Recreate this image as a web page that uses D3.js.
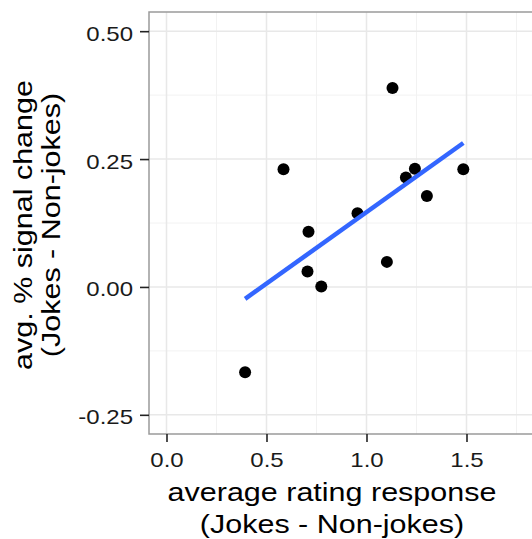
<!DOCTYPE html>
<meta charset="utf-8">
<html>
    <head>
        <script src="https://d3js.org/d3.v7.min.js"></script>
        <style>
            body { margin: 0; background: #fff; }
            text { font-family: "Liberation Sans", Arial, sans-serif; }
        </style>
    </head>

    <body>
        <div id="viz"></div>

    <script>
        // average rating response (Jokes - Non-jokes), one value per subject
        const ratingDiff = [1.13, 0.585, 1.242, 1.197, 1.484, 1.302, 0.955, 0.71, 1.102, 0.705, 0.774, 0.393];
        // avg. % signal change (Jokes - Non-jokes)
        const signalDiff = [0.389, 0.230, 0.231, 0.214, 0.230, 0.178, 0.144, 0.108, 0.049, 0.030, 0.001, -0.167];

        const xTicks = [0, 0.5, 1.0, 1.5],
            xMinor = [0.25, 0.75, 1.25, 1.75],
            yTicks = [-0.25, 0, 0.25, 0.5],
            yMinor = [-0.125, 0.125, 0.375];

        const xTitle = ["average rating response", "(Jokes - Non-jokes)"],
            yTitle = ["avg. % signal change", "(Jokes - Non-jokes)"];

        const w = 532, h = 539;
        const panel = {left: 149, right: 534, top: 12, bottom: 434};
        const stretch = 1.22;

        const svg = d3.select("#viz")
            .append("svg")
            .attr("width", w)
            .attr("height", h);

        const x = d3.scaleLinear()
            .domain([-0.0875, 1.8375])
            .range([panel.left, panel.right]);
        const y = d3.scaleLinear()
            .domain([-0.2875, 0.5375])
            .range([panel.bottom, panel.top]);

        // grid
        const grid = svg.append("g");
        grid.selectAll(".vminor").data(xMinor).join("line")
            .attr("x1", d => x(d)).attr("x2", d => x(d))
            .attr("y1", panel.top).attr("y2", panel.bottom)
            .attr("stroke", "#f2f2f2").attr("stroke-width", 1);
        grid.selectAll(".hminor").data(yMinor).join("line")
            .attr("y1", d => y(d)).attr("y2", d => y(d))
            .attr("x1", panel.left).attr("x2", panel.right)
            .attr("stroke", "#f2f2f2").attr("stroke-width", 1);
        grid.selectAll(".vmajor").data(xTicks).join("line")
            .attr("x1", d => x(d)).attr("x2", d => x(d))
            .attr("y1", panel.top).attr("y2", panel.bottom)
            .attr("stroke", "#e8e8e8").attr("stroke-width", 1.5);
        grid.selectAll(".hmajor").data(yTicks).join("line")
            .attr("y1", d => y(d)).attr("y2", d => y(d))
            .attr("x1", panel.left).attr("x2", panel.right)
            .attr("stroke", "#e8e8e8").attr("stroke-width", 1.5);

        // points
        const pts = d3.zip(ratingDiff, signalDiff);
        svg.append("g").selectAll("circle")
            .data(pts)
            .join("circle")
            .attr("cx", d => x(d[0]))
            .attr("cy", d => y(d[1]))
            .attr("r", 6)
            .attr("fill", "#000");

        // least squares fit (geom_smooth method = lm, no se)
        const mx = d3.mean(ratingDiff), my = d3.mean(signalDiff);
        const slope = d3.sum(pts, d => (d[0] - mx) * (d[1] - my)) / d3.sum(ratingDiff, v => (v - mx) * (v - mx));
        const intercept = my - slope * mx;
        const fitX = d3.extent(ratingDiff);
        svg.append("path")
            .datum(fitX.map(v => [v, intercept + slope * v]))
            .attr("fill", "none")
            .attr("stroke", "#3366FF")
            .attr("stroke-width", 4.5)
            .attr("d", d3.line().x(d => x(d[0])).y(d => y(d[1])));

        // panel border
        svg.append("rect")
            .attr("x", panel.left).attr("y", panel.top)
            .attr("width", panel.right - panel.left)
            .attr("height", panel.bottom - panel.top)
            .attr("fill", "none")
            .attr("stroke", "#9a9a9a")
            .attr("stroke-width", 1.5);

        // axes
        const yAxis = svg.append("g")
            .attr("transform", `translate(${panel.left},0)`)
            .call(d3.axisLeft(y).tickValues(yTicks).tickFormat(d => d.toFixed(2))
                .tickSizeInner(9).tickSizeOuter(0).tickPadding(4.3));
        const xAxis = svg.append("g")
            .attr("transform", `translate(0,${panel.bottom})`)
            .call(d3.axisBottom(x).tickValues(xTicks).tickFormat(d => d.toFixed(1))
                .tickSizeInner(8).tickSizeOuter(0));

        [xAxis, yAxis].forEach(a => {
            a.select(".domain").remove();
            a.selectAll(".tick line").attr("stroke", "#222").attr("stroke-width", 1.6);
            a.selectAll(".tick text")
                .attr("fill", "#1a1a1a")
                .style("font-size", "20px")
                .attr("font-family", null);
        });
        yAxis.selectAll(".tick text")
            .attr("dy", 0).attr("y", 9)
            .attr("transform", `scale(${stretch - 0.02},1)`);
        xAxis.selectAll(".tick text")
            .attr("dy", 0).attr("y", 33)
            .attr("transform", `scale(${stretch - 0.02},1)`);

        // titles
        const xt = [501, 533];
        svg.append("g").selectAll("text")
            .data(xTitle)
            .join("text")
            .attr("transform", (d, i) => `translate(332,${xt[i]}) scale(${stretch},1)`)
            .attr("text-anchor", "middle")
            .style("font-size", "25px")
            .attr("fill", "#000")
            .text(d => d);

        const yt = [32, 60];
        svg.append("g").selectAll("text")
            .data(yTitle)
            .join("text")
            .attr("transform", (d, i) => `translate(${yt[i]},225) rotate(-90) scale(${stretch},1)`)
            .attr("text-anchor", "middle")
            .style("font-size", "25px")
            .attr("fill", "#000")
            .text(d => d);
    </script>
    </body>
</html>
